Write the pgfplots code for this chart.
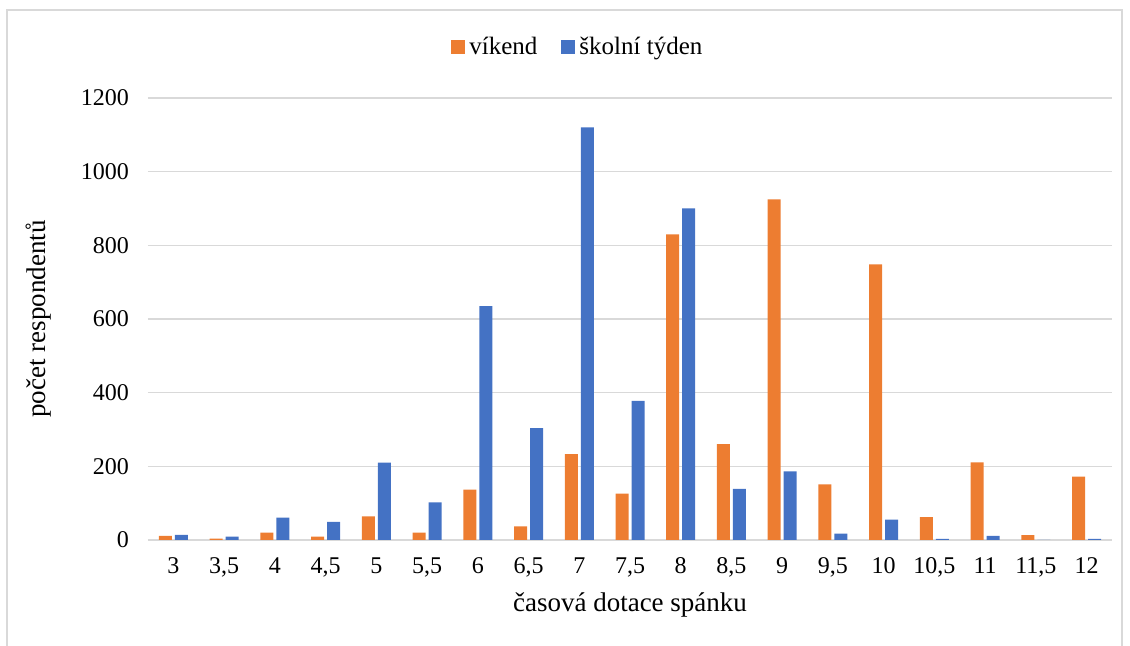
\documentclass[border=0pt]{standalone}
\usepackage{pgfplots}
\pgfplotsset{compat=1.18}
\usepackage{fontspec}
\setmainfont{Liberation Serif}
\definecolor{vik}{HTML}{ED7D31}
\definecolor{sko}{HTML}{4472C4}
\definecolor{gridc}{HTML}{D9D9D9}
\begin{document}
\begin{tikzpicture}
\begin{axis}[
  scale only axis,
  width=482pt, height=221pt,
  ybar=1.5pt, bar width=6.5pt,
  ymin=0, ymax=1200, ytick distance=200,
  xmin=-0.5, xmax=18.5,
  xtick={0,...,18},
  xticklabels={3,{3,5},4,{4,5},5,{5,5},6,{6,5},7,{7,5},8,{8,5},9,{9,5},10,{10,5},11,{11,5},12},
  axis lines=left,
  x axis line style={-, draw=gridc, line width=1.2pt},
  y axis line style={draw=none},
  major tick length=0pt,
  ymajorgrids, grid style={draw=gridc, line width=0.8pt},
  /pgf/number format/assume math mode=true,
  /pgf/number format/1000 sep={},
  tick label style={font=\fontsize{12}{14}\selectfont, black},
  yticklabel style={anchor=east, xshift=-6pt},
  xticklabel style={anchor=base, yshift=-17pt},
  xlabel={časová dotace spánku},
  ylabel={počet respondentů},
  label style={font=\fontsize{13.5}{16}\selectfont},
  xlabel style={at={(axis description cs:0.5,-0.147)}, anchor=center},
  ylabel style={at={(axis description cs:-0.114,0.5)}, anchor=center},
  legend style={at={(axis description cs:0.447,1.115)}, anchor=center, draw=none, fill=none,
    legend columns=2, font=\fontsize{12.5}{14}\selectfont,
    /tikz/every even column/.append style={column sep=10pt}},
  legend image code/.code={\fill[#1] (2pt,-3.5pt) rectangle (9pt,3.5pt);},
  clip=false,
]
\addplot[fill=vik, draw=none] coordinates {
(0,11) (1,4) (2,20) (3,9) (4,64) (5,20) (6,137) (7,37) (8,233) (9,126)
(10,830) (11,260) (12,925) (13,151) (14,748) (15,62) (16,211) (17,13) (18,172)};
\addplot[fill=sko, draw=none] coordinates {
(0,14) (1,9) (2,61) (3,49) (4,210) (5,102) (6,635) (7,304) (8,1120) (9,378)
(10,900) (11,139) (12,186) (13,17) (14,55) (15,3) (16,11) (17,0) (18,3)};
\legend{víkend, školní týden}
\end{axis}
\useasboundingbox (-74pt,-53pt) rectangle (491pt,270pt);
\draw[gridc, line width=1pt] (-70.5pt,-60pt) -- (-70.5pt,265pt) -- (487pt,265pt) -- (487pt,-60pt);
\end{tikzpicture}
\end{document}
